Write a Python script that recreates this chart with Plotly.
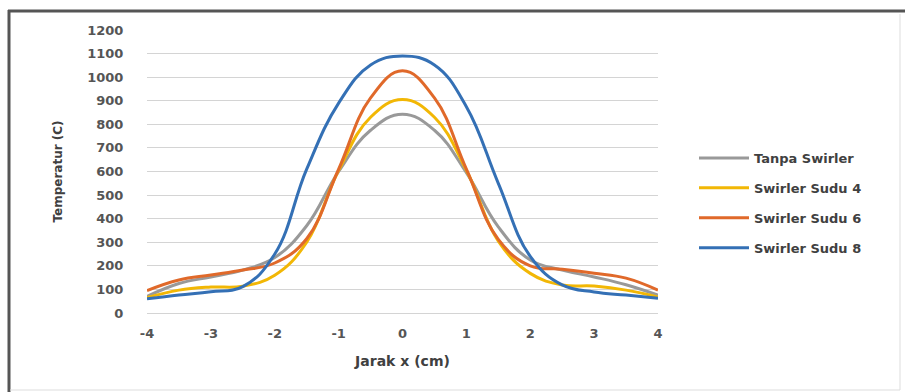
import plotly.graph_objects as go

x_vals = [-4, -3.5, -3, -2.5, -2, -1.5, -1, -0.5, 0, 0.5, 1, 1.5, 2, 2.5, 3, 3.5, 4]
tanpa = [70, 125, 153, 182, 235, 370, 600, 775, 843, 775, 595, 365, 225, 182, 153, 120, 76]
sudu4 = [65, 97, 110, 114, 160, 300, 605, 830, 905, 830, 605, 305, 168, 119, 114, 97, 68]
sudu6 = [95, 140, 161, 182, 212, 315, 610, 912, 1027, 912, 610, 312, 200, 186, 169, 148, 97]
sudu8 = [60, 76, 90, 112, 250, 610, 890, 1052, 1090, 1052, 875, 550, 240, 119, 89, 76, 63]

names = ["Tanpa Swirler", "Swirler Sudu 4", "Swirler Sudu 6", "Swirler Sudu 8"]
series = [tanpa, sudu4, sudu6, sudu8]
colors = ["#999999", "#f2b705", "#e0692a", "#3470b5"]

y_ticks = list(range(0, 1201, 100))
x_ticks = [-4, -3, -2, -1, 0, 1, 2, 3, 4]

fig = go.Figure()
for i, (n, s, c) in enumerate(zip(names, series, colors)):
    fig.add_trace(go.Scatter(
        x=x_vals, y=s, name=n, mode="lines",
        line=dict(color=c, width=3, shape="spline", smoothing=1.2),
        legendgroup=f"g{i}",
    ))

font_family = "DejaVu Sans, Verdana, sans-serif"

W, H = 905, 392
L, R, T, B = 147, 658, 30, 313

def px(xp):
    return (xp - L) / (R - L)

def py(yp):
    return (B - yp) / (B - T)

fig.update_layout(
    width=W, height=H,
    margin=dict(l=L, r=W - R, t=T, b=H - B),
    paper_bgcolor="white", plot_bgcolor="white",
    font=dict(family=font_family, color="#505050", size=12),
    showlegend=True,
    legend=dict(
        xref="container", yref="container",
        x=694 / W, y=1 - 143 / H, xanchor="left", yanchor="top",
        font=dict(size=13, color="#404040", weight="bold"),
        traceorder="grouped", tracegroupgap=10,
        itemwidth=50,
        bgcolor="rgba(0,0,0,0)",
    ),
    xaxis=dict(
        range=[-4, 4], tickvals=x_ticks, ticktext=[str(v) for v in x_ticks],
        showgrid=False, zeroline=False, showline=False,
        ticks="outside", ticklen=8, tickcolor="rgba(0,0,0,0)",
        tickfont=dict(size=13, color="#555555", weight="bold"),
        title=dict(text="Jarak x (cm)", font=dict(size=14, color="#404040", weight="bold"), standoff=16),
    ),
    yaxis=dict(
        range=[0, 1200], tickvals=y_ticks,
        showgrid=True, gridcolor="#d4d4d4", gridwidth=1,
        zeroline=True, zerolinecolor="#d4d4d4", zerolinewidth=1,
        showline=False,
        ticks="outside", ticklen=20, tickcolor="rgba(0,0,0,0)",
        tickfont=dict(size=13, color="#555555", weight="bold"),
        title=dict(text="Temperatur (C)", font=dict(size=12, color="#404040", weight="bold"), standoff=22),
    ),
    shapes=[
        dict(type="line", xref="paper", yref="paper", x0=px(8), x1=px(905), y0=py(11), y1=py(11),
             line=dict(color="#555555", width=3)),
        dict(type="line", xref="paper", yref="paper", x0=px(9), x1=px(9), y0=py(10), y1=py(392),
             line=dict(color="#555555", width=3)),
        dict(type="line", xref="paper", yref="paper", x0=px(900), x1=px(900), y0=py(14), y1=py(390),
             line=dict(color="#dddddd", width=1)),
        dict(type="line", xref="paper", yref="paper", x0=px(10), x1=px(900), y0=py(390), y1=py(390),
             line=dict(color="#dddddd", width=1)),
    ],
)

fig.write_html("out.html", config={"displayModeBar": False},
               post_script="document.body.style.margin='0';document.body.style.overflow='hidden';")
